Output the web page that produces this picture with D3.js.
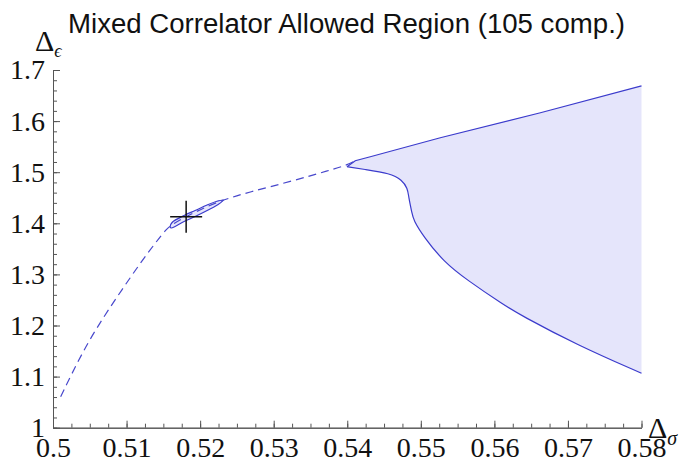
<!doctype html>
<html lang=en>
<head>
<meta charset=utf-8>
<title>Mixed Correlator Allowed Region</title>
<script src="https://d3js.org/d3.v7.min.js"></script>
<style>
  body { margin: 0; background: #fff; }
  .tick text { font-family: "Liberation Serif", serif; font-size: 28px; fill: #111; }
  .axis path, .axis line { stroke: #555; }
</style>
</head>
<body>
<div id="container"></div>
<script>
    // tick values
    var xMajor = [0.5, 0.51, 0.52, 0.53, 0.54, 0.55, 0.56, 0.57, 0.58];
    var yMajor = [1, 1.1, 1.2, 1.3, 1.4, 1.5, 1.6, 1.7];

    // dashed boundary (Delta_sigma, Delta_epsilon)
    var dashX = [0.50104, 0.50413, 0.50684, 0.50935, 0.51184, 0.51388, 0.51547, 0.5163, 0.5181, 0.52227, 0.5268, 0.53224, 0.53769, 0.54, 0.5411];
    var dashY = [1.0607, 1.152, 1.216, 1.2695, 1.3217, 1.3609, 1.3902, 1.3985, 1.4135, 1.4423, 1.4618, 1.4814, 1.5043, 1.514, 1.5225];

    // small island near the Ising point
    var islandX = [0.51592, 0.51619, 0.51796, 0.51932, 0.52095, 0.52218, 0.52317, 0.52245, 0.52109, 0.51946, 0.51782, 0.5166, 0.51605];
    var islandY = [1.3933, 1.4016, 1.4162, 1.425, 1.4358, 1.4427, 1.4456, 1.4368, 1.426, 1.4143, 1.4035, 1.3937, 1.3908];

    // large allowed region: upper and lower edges starting at the tip
    var upperX = [0.53996, 0.54109, 0.54313, 0.55265, 0.56626, 0.58];
    var upperY = [1.5108, 1.5225, 1.5303, 1.5675, 1.6164, 1.669];
    var lowerX = [0.53996, 0.5422, 0.54585, 0.54744, 0.5482, 0.54834, 0.5488, 0.549, 0.55038, 0.5531, 0.55628, 0.5613, 0.56354, 0.57125, 0.58];
    var lowerY = [1.5108, 1.5057, 1.4978, 1.4847, 1.4685, 1.452, 1.4196, 1.4065, 1.3738, 1.3249, 1.289, 1.2401, 1.2205, 1.1618, 1.1065];

    // Ising point marker
    var isingX = [0.5181];
    var isingY = [1.4129];

    var w = 693, h = 457;
    var svg = d3.select("#container").append("svg")
        .attr("width", w).attr("height", h);

    var x = d3.scaleLinear().domain([0.5, 0.58]).range([53, 641.5]);
    var y = d3.scaleLinear().domain([1, 1.7]).range([427.7, 70]);

    var zip = function(a, b) { return a.map(function(v, i) { return [v, b[i]]; }); };
    var mk = function(c) { return d3.line().curve(c).x(function(d) { return x(d[0]); }).y(function(d) { return y(d[1]); }); };
    var straight = mk(d3.curveLinear), basis = mk(d3.curveBasis);

    var upper = zip(upperX, upperY);
    var lower = zip(lowerX, lowerY);
    var blue = "#3b3bcc";

// region fill: lower edge, right side, upper edge back to tip
    var upperD = straight(upper);
    var lowerD = basis(lower);
    svg.append("path")
        .attr("d", lowerD + straight(upper.slice().reverse()).replace(/^M/, "L") + "Z")
        .attr("fill", "#e5e5fb").attr("stroke", "none");
    svg.append("path").attr("d", upperD).attr("fill", "none").attr("stroke", blue).attr("stroke-width", 1.2);
    svg.append("path").attr("d", lowerD).attr("fill", "none").attr("stroke", blue).attr("stroke-width", 1.2);

// island
    svg.append("path")
        .attr("d", d3.line().curve(d3.curveCatmullRomClosed).x(function(d) { return x(d[0]); }).y(function(d) { return y(d[1]); })(zip(islandX, islandY)))
        .attr("fill", "#e5e5fb").attr("stroke", blue).attr("stroke-width", 1.2);

// dashed curve
    svg.append("path")
        .attr("d", basis(zip(dashX, dashY)))
        .attr("fill", "none").attr("stroke", "#4848cc").attr("stroke-width", 1.2)
        .attr("stroke-dasharray", "8,5");

// cross
    var cx = x(isingX[0]), cy = y(isingY[0]);
    svg.append("path")
        .attr("d", "M" + (cx - 16) + "," + cy + "H" + (cx + 16) + "M" + cx + "," + (cy - 16) + "V" + (cy + 16))
        .attr("stroke", "#111").attr("stroke-width", 1.5);

// axes
    var xMinor = d3.range(0, 33).map(function(i) { return 0.5 + i * 0.0025; });
    var yMinor = d3.range(0, 36).map(function(i) { return 1 + i * 0.02; });

    svg.append("g").attr("class", "axis").attr("transform", "translate(0," + y(1) + ")")
        .call(d3.axisBottom(x).tickValues(xMinor).tickSize(-4).tickSizeOuter(0).tickFormat(""));
    svg.append("g").attr("class", "axis").attr("transform", "translate(0," + y(1) + ")")
        .call(d3.axisBottom(x).tickValues(xMajor).tickSize(-7).tickSizeOuter(0).tickPadding(9).tickFormat(d3.format("~g")));
    svg.append("g").attr("class", "axis").attr("transform", "translate(" + x(0.5) + ",0)")
        .call(d3.axisLeft(y).tickValues(yMinor).tickSize(-4).tickSizeOuter(0).tickFormat(""));
    svg.append("g").attr("class", "axis").attr("transform", "translate(" + x(0.5) + ",0)")
        .call(d3.axisLeft(y).tickValues(yMajor).tickSize(-7).tickSizeOuter(0).tickPadding(8).tickFormat(d3.format("~g")));

// axis labels and title
    var lab = svg.append("text").attr("x", 35).attr("y", 51).attr("font-family", "Liberation Serif, serif").attr("font-size", 30).attr("fill", "#111");
    lab.append("tspan").text("Δ");
    lab.append("tspan").attr("font-size", 18).attr("font-style", "italic").attr("dy", 6).text("ϵ");

    var labx = svg.append("text").attr("x", 648).attr("y", 438).attr("font-family", "Liberation Serif, serif").attr("font-size", 30).attr("fill", "#111");
    labx.append("tspan").text("Δ");
    labx.append("tspan").attr("font-size", 20).attr("font-style", "italic").attr("dy", 7).text("σ");

    svg.append("text").attr("x", 68).attr("y", 33)
        .attr("font-family", "Liberation Sans, sans-serif").attr("font-size", 27).attr("fill", "#111")
        .attr("textLength", 557).attr("lengthAdjust", "spacingAndGlyphs")
        .text("Mixed Correlator Allowed Region (105 comp.)");
</script>
</body>
</html>
